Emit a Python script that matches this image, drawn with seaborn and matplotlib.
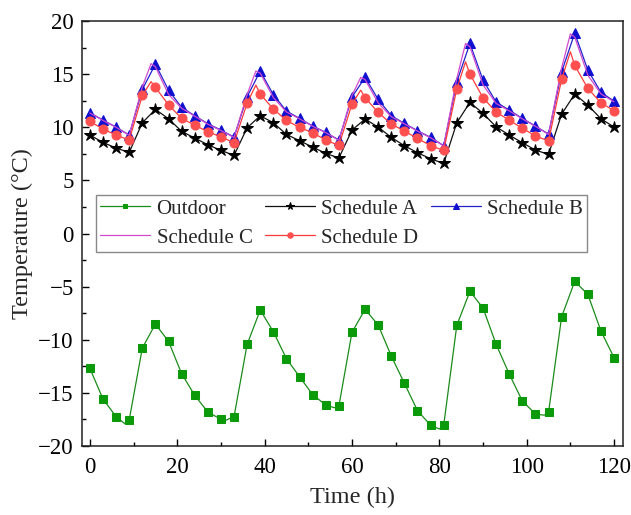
import numpy as np
import pandas as pd
import matplotlib
matplotlib.use("Agg")
import matplotlib.pyplot as plt
import seaborn as sns
from matplotlib.ticker import MultipleLocator

# ---------------- data ----------------
hours = list(range(0, 121, 3))

outdoor = [-12.69, -15.58, -17.24, -17.55, -10.78, -8.52, -10.15, -13.19, -15.23, -16.8,
           -17.49, -17.24, -10.43, -7.2, -9.24, -11.78, -13.48, -15.17, -16.14, -16.24,
           -9.3, -7.14, -8.61, -11.53, -14.1, -16.67, -18.05, -18.05, -8.64, -5.44,
           -7.01, -10.43, -13.22, -15.76, -16.99, -16.83, -7.83, -4.5, -5.73, -9.18, -11.69]
outdoor_extra_h = [8, 31, 56, 80, 104]
outdoor_extra_v = [-17.9, -17.6, -16.4, -18.4, -17.1]

sched_a = [9.27, 8.58, 8.05, 7.64, 10.43, 11.69, 10.81, 9.62, 8.99, 8.36,
           7.83, 7.36, 9.96, 11.09, 10.43, 9.33, 8.74, 8.14, 7.55, 7.11,
           9.74, 10.78, 10.02, 9.05, 8.27, 7.61, 7.04, 6.6, 10.43, 12.35,
           11.31, 10.05, 9.27, 8.55, 7.86, 7.45, 11.25, 13.13, 12.09, 10.81, 10.02]

sched_b = [11.37, 10.68, 10.02, 9.27, 13.57, 15.95, 13.5, 11.88, 11.09, 10.34,
           9.74, 9.08, 12.88, 15.3, 13.07, 11.53, 10.84, 10.12, 9.52, 8.8,
           12.85, 14.7, 12.63, 11.09, 10.37, 9.68, 9.05, 8.27, 14.29, 17.9,
           14.45, 12.38, 11.62, 10.84, 10.12, 9.36, 15.23, 18.87, 15.39, 13.29, 12.47]

sched_c = [11.35, 10.65, 10.0, 9.25, 13.8, 15.7, 13.1, 11.8, 11.05, 10.3,
           9.7, 9.05, 13.1, 15.1, 12.8, 11.45, 10.8, 10.1, 9.5, 8.78,
           13.0, 14.5, 12.3, 11.0, 10.33, 9.65, 9.02, 8.25, 14.6, 17.6,
           14.0, 12.25, 11.55, 10.8, 10.1, 9.33, 15.6, 18.5, 14.9, 13.15, 12.4]
sched_c_extra_h = [14, 38, 62, 86, 110]
sched_c_extra_v = [16.0, 15.3, 14.7, 17.9, 18.8]

sched_d = [10.56, 9.84, 9.27, 8.8, 13.0, 13.76, 12.12, 10.84, 10.21, 9.58,
           9.11, 8.55, 12.28, 13.13, 11.72, 10.65, 9.99, 9.49, 8.8, 8.3,
           12.19, 12.78, 11.41, 10.31, 9.65, 8.96, 8.27, 7.83, 13.63, 15.01,
           12.78, 11.44, 10.68, 9.9, 9.2, 8.71, 14.54, 15.83, 13.66, 12.31, 11.56]
sched_d_extra_h = [14, 38, 62, 86, 110]
sched_d_extra_v = [14.3, 13.98, 13.5, 16.17, 17.11]

labels = ["Outdoor", "Schedule A", "Schedule B", "Schedule C", "Schedule D"]

# ---------------- style ----------------
sns.set_style("ticks")
plt.rcParams["font.family"] = ["Liberation Serif", "DejaVu Serif"]
plt.rcParams["mathtext.fontset"] = "stix"

fig = plt.figure(figsize=(6.31, 5.15), dpi=100)
ax = fig.add_axes([0.130, 0.134, 0.857, 0.825])


def series(h, v, eh=None, ev=None):
    df = pd.DataFrame({"h": list(h) + list(eh or []), "v": list(v) + list(ev or [])})
    df = df.sort_values("h").reset_index(drop=True)
    idx = [i for i, hh in enumerate(df["h"]) if hh % 3 == 0]
    return df, idx


specs = [
    (labels[0], hours, outdoor, outdoor_extra_h, outdoor_extra_v,
     dict(color="#1a8c1a", marker="s", markersize=6, mfc="#0a9a0a", mec="#0a9a0a")),
    (labels[1], hours, sched_a, None, None,
     dict(color="#111111", marker="*", markersize=9, mfc="black", mec="black")),
    (labels[2], hours, sched_b, None, None,
     dict(color="#2222cc", marker="^", markersize=7.5, mfc="#1010d0", mec="#1010d0")),
    (labels[3], hours, sched_c, sched_c_extra_h, sched_c_extra_v,
     dict(color="#d04ad0", marker=None)),
    (labels[4], hours, sched_d, sched_d_extra_h, sched_d_extra_v,
     dict(color="#ff3a3a", marker="o", markersize=6.5, mfc="#ff4f4f", mec="#ff4f4f")),
]

for name, h, v, eh, ev, kw in specs:
    df, idx = series(h, v, eh, ev)
    extra = dict(kw)
    if extra.get("marker") is not None:
        extra["markevery"] = idx
    sns.lineplot(data=df, x="h", y="v", ax=ax, label=name, linewidth=0.9,
                 sort=False, estimator=None, **extra)

# ---------------- axes ----------------
ax.set_xlim(-1.8, 122)
ax.set_ylim(-20, 20)
ax.xaxis.set_major_locator(MultipleLocator(20))
ax.xaxis.set_minor_locator(MultipleLocator(10))
ax.yaxis.set_major_locator(MultipleLocator(5))
ax.yaxis.set_minor_locator(MultipleLocator(2.5))
ax.tick_params(which="both", direction="in", top=False, right=False,
               labelsize=16.5, colors="black")
ax.tick_params(axis="x", which="both", pad=8)
ax.tick_params(axis="y", which="both", pad=6)
ax.tick_params(which="major", length=5, width=1)
ax.tick_params(which="minor", length=3, width=1)
for s in ax.spines.values():
    s.set_linewidth(1.1)
    s.set_color("#222222")

ax.set_xlabel("Time (h)", fontsize=17.5, labelpad=6)
ax.set_ylabel("Temperature (°C)", fontsize=17.5, labelpad=4)

h_, l_ = ax.get_legend_handles_labels()
d = dict(zip(l_, h_))
order = ["Outdoor", "Schedule C", "Schedule A", "Schedule D", "Schedule B"]
leg = ax.legend([d[k] for k in order], order, ncol=3, loc="upper left",
                bbox_to_anchor=(0.026, 0.591), borderaxespad=0, fontsize=15,
                frameon=True, fancybox=False, edgecolor="#888888", framealpha=1,
                handlelength=2.4, handletextpad=0.3, columnspacing=0.6,
                labelspacing=0.45, borderpad=0.2, markerscale=0.6, numpoints=1)
leg.get_frame().set_linewidth(1.0)

fig.savefig("out.png", dpi=100)
